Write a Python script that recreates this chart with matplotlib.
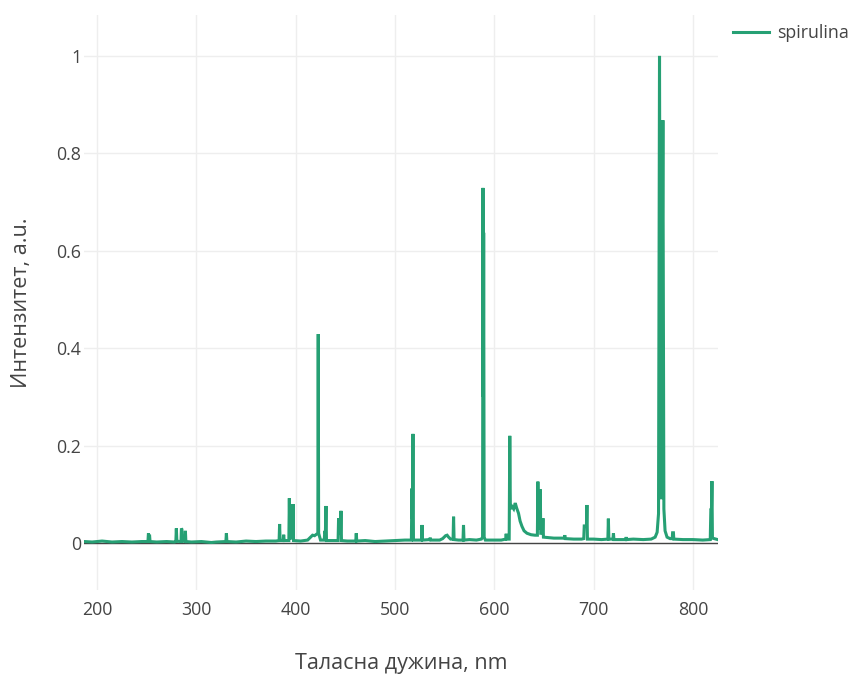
import matplotlib.pyplot as plt

plt.rcParams['font.family'] = ['Open Sans', 'DejaVu Sans']

# spirulina emission spectrum (wavelength in nm, normalised intensity)
wavelength = [
    187, 195, 205, 215, 225, 235, 245, 250,
    251.2, 251.7, 252.3, 252.8, 253.3,
    260, 270, 278,
    279.3, 279.8, 280.3,
    283, 284.5, 284.9, 285.4, 285.9,
    288.4, 288.9, 289.4,
    295, 305, 315, 320,
    329.7, 330.2, 330.7,
    340, 350, 360, 370, 380,
    383.3, 383.8, 384.3,
    387.4, 387.9, 388.4,
    393.1, 393.6, 394.1, 396.8, 397.3, 397.8,
    405, 412, 415, 417, 419, 421,
    422.3, 422.7, 423.1,
    425, 428.8, 429.3, 429.9, 430.5, 431.0,
    437, 442.7, 443.2, 443.8, 445.1, 445.6, 446.1,
    452, 460.5, 461, 461.5,
    470, 480, 490, 500, 510, 516.5,
    517.1, 517.6, 518.1, 518.6,
    522, 526.7, 527.2, 527.7,
    535, 535.5, 536, 545, 548, 551, 552.5, 554, 556,
    558.5, 559, 559.5,
    564, 568.5, 569, 569.5,
    575, 582, 587, 588.2, 588.6, 589.0, 589.3, 589.8, 591,
    600, 607, 611.5, 612, 612.5, 615,
    615.6, 616.2, 617.8, 619.5, 621.1, 622.5, 624.4, 626, 627.9, 630,
    632.9, 637, 641, 643.4,
    643.9, 644.6, 645.8, 646.3, 646.8, 648.5, 649, 649.5,
    655, 660, 665, 670.5, 671, 671.5, 680, 688,
    690.1, 690.6, 692.8, 693.3, 693.8,
    700, 708, 714.4, 714.9, 715.4, 719.5, 720, 720.5,
    728, 732.3, 732.8, 733.3, 740, 750, 758,
    762, 764, 765.4, 766.4, 767.3, 768.2, 769.8, 770.8, 772, 774, 777,
    779.2, 779.6, 780.4, 780.8,
    790, 800, 810, 817.5, 818.1, 818.7, 819.2, 819.7, 823, 825,
]
intensity = [
    0.003, 0.002, 0.004, 0.002, 0.003, 0.002, 0.003, 0.003,
    0.003, 0.020, 0.010, 0.017, 0.003,
    0.002, 0.003, 0.002,
    0.003, 0.030, 0.004,
    0.003, 0.003, 0.030, 0.028, 0.004,
    0.003, 0.025, 0.003,
    0.002, 0.003, 0.001, 0.002,
    0.003, 0.020, 0.003,
    0.002, 0.004, 0.003, 0.004, 0.004,
    0.005, 0.039, 0.005,
    0.005, 0.017, 0.005,
    0.005, 0.092, 0.010, 0.010, 0.080, 0.005,
    0.004, 0.006, 0.012, 0.016, 0.015, 0.018,
    0.020, 0.429, 0.020,
    0.006, 0.006, 0.025, 0.020, 0.076, 0.005,
    0.005, 0.005, 0.051, 0.020, 0.020, 0.066, 0.005,
    0.004, 0.004, 0.020, 0.004,
    0.005, 0.003, 0.004, 0.005, 0.006, 0.006,
    0.112, 0.050, 0.224, 0.006,
    0.006, 0.006, 0.037, 0.006,
    0.007, 0.011, 0.006, 0.006, 0.009, 0.015, 0.016, 0.012, 0.008,
    0.008, 0.054, 0.007,
    0.006, 0.006, 0.037, 0.006,
    0.007, 0.006, 0.008, 0.012, 0.729, 0.300, 0.637, 0.012, 0.006,
    0.006, 0.006, 0.008, 0.019, 0.008, 0.008,
    0.220, 0.070, 0.075, 0.070, 0.082, 0.072, 0.061, 0.045, 0.034, 0.025,
    0.020, 0.017, 0.016, 0.016,
    0.126, 0.030, 0.030, 0.110, 0.020, 0.020, 0.051, 0.012,
    0.011, 0.010, 0.010, 0.010, 0.016, 0.009, 0.008, 0.008,
    0.009, 0.035, 0.035, 0.078, 0.008,
    0.008, 0.007, 0.008, 0.050, 0.008, 0.008, 0.020, 0.007,
    0.007, 0.007, 0.012, 0.007, 0.008, 0.007, 0.008,
    0.012, 0.022, 0.060, 1.000, 0.150, 0.090, 0.868, 0.070, 0.025, 0.012, 0.009,
    0.009, 0.021, 0.021, 0.008,
    0.007, 0.007, 0.006, 0.007, 0.068, 0.068, 0.127, 0.010, 0.008, 0.007,
]

x_ticks = [200, 300, 400, 500, 600, 700, 800]
y_ticks = [0, 0.2, 0.4, 0.6, 0.8, 1]
y_tick_labels = ['0', '0.2', '0.4', '0.6', '0.8', '1']

text_color = '#444444'
line_color = '#26a074'

fig = plt.figure(figsize=(8.55, 6.75), dpi=100)
ax = fig.add_axes([84 / 855, 1 - 590 / 675, (717.5 - 84) / 855, (590 - 15) / 675])

ax.plot(wavelength, intensity, color=line_color, linewidth=2.2,
        solid_joinstyle='miter', label='spirulina', zorder=3)
ax.axhline(0, color='#444444', linewidth=1.0, zorder=2)

ax.set_xlim(186.8, 824.8)
ax.set_ylim(-0.0965, 1.084)
ax.set_xticks(x_ticks)
ax.set_yticks(y_ticks)
ax.set_yticklabels(y_tick_labels)
ax.grid(True, color='#eeeeee', linewidth=1.0, zorder=0)
ax.set_axisbelow(True)
for side in ax.spines.values():
    side.set_visible(False)
ax.tick_params(length=0, labelsize=12.8, labelcolor=text_color)
ax.tick_params(axis='x', pad=8)
ax.tick_params(axis='y', pad=2)

ax.set_xlabel('Таласна дужина, nm', fontsize=15.5, color=text_color, va='center')
ax.xaxis.set_label_coords(0.5, (590 - 664) / 575)
ax.set_ylabel('Интензитет, a.u.', fontsize=15.5, color=text_color, va='center')
ax.yaxis.set_label_coords((22 - 84) / 633.5, 0.5)

fig.legend(loc='upper left', bbox_to_anchor=(726 / 855, 1 - 17 / 675),
           frameon=False, fontsize=12.8, handlelength=2.0, handletextpad=0.45,
           labelcolor=text_color, borderaxespad=0)

fig.savefig('out.png', dpi=100, facecolor='white')
